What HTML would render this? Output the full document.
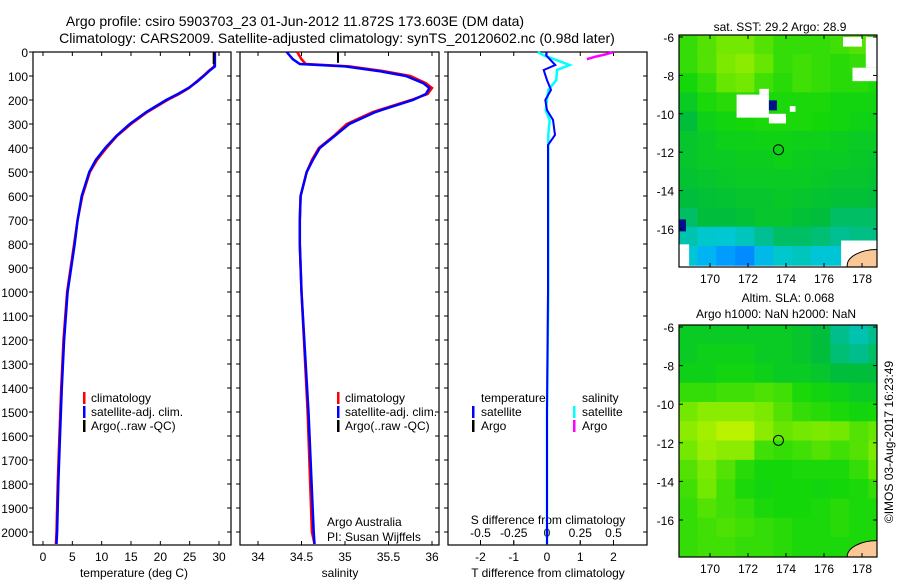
<!DOCTYPE html>
<html><head><meta charset="utf-8">
<style>
html,body{margin:0;padding:0;background:#fff;}
svg text{font-family:"Liberation Sans",sans-serif;fill:#000;}
</style></head>
<body>
<svg id="fig" width="900" height="580" viewBox="0 0 900 580" xmlns="http://www.w3.org/2000/svg">
<text x="295" y="26" font-size="14" text-anchor="middle">Argo profile: csiro 5903703_23 01-Jun-2012 11.872S 173.603E (DM data)</text>
<text x="337" y="43" font-size="14" text-anchor="middle">Climatology: CARS2009. Satellite-adjusted climatology: synTS_20120602.nc (0.98d later)</text>
<g id="g"></g>
</svg>
<script>
// ---------- data ----------
var depthT = [0,60,80,100,125,150,175,200,250,300,350,400,450,500,600,700,800,1000,1200,1400,1600,1800,2000,2050];
var tempSat = [29.3,29.3,28.3,27.4,26.2,24.8,23.0,21.0,17.6,14.8,12.5,10.6,9.0,7.9,6.6,5.9,5.4,4.2,3.6,3.2,2.9,2.6,2.4,2.3];
var tempClim = [29.2,29.2,28.2,27.3,26.1,24.9,23.2,21.2,17.8,15.0,12.6,10.8,9.2,8.0,6.7,5.9,5.3,4.1,3.5,3.1,2.8,2.5,2.3,2.2];
var depthS = [0,30,50,60,80,100,130,150,175,200,250,300,350,400,450,500,600,700,800,1000,1500,2000,2050];
var salSat = [34.33,34.4,34.48,35.0,35.4,35.7,35.9,35.97,35.93,35.78,35.35,35.05,34.88,34.71,34.63,34.56,34.49,34.48,34.48,34.5,34.58,34.64,34.65];
var salClim = [34.45,34.5,34.55,35.05,35.45,35.75,35.93,36.0,35.95,35.76,35.32,35.02,34.87,34.7,34.62,34.56,34.49,34.48,34.48,34.5,34.57,34.62,34.65];
var argoTdepth = [0,50]; var argoT = [29.1,29.1];
var argoSdepth = [0,45]; var argoS = [34.92,34.92];
var diffDepth = [0,15,54,75,117,158,200,242,283,346,388,500,1000,1500,2050];
var tDiff = [-0.02,-0.02,0.25,-0.1,0,0.12,-0.05,0,0.18,0.24,0.03,0.03,0.03,0.0,0.0];
var sDiff = [-0.07,-0.02,0.17,0.075,0.07,0.01,0,-0.01,0.02,0.01,0.01,0.01,0.01,0.0,0.0];
var sArgoDepth = [0,10,20,30]; var sArgoDiff = [0.5,0.44,0.36,0.3];
var yTicks = [0,100,200,300,400,500,600,700,800,900,1000,1100,1200,1300,1400,1500,1600,1700,1800,1900,2000];
var tTicks = [0,5,10,15,20,25,30];
var sTicks = [34,34.5,35,35.5,36];
var sTickLabels = ["34","34.5","35","35.5","36"];
var dTTicks = [-2,-1,0,1,2];
var dSTicks = [-0.5,-0.25,0,0.25,0.5];
var lonTicks = [170,172,174,176,178];
var latTicks = [-6,-8,-10,-12,-14,-16];
var sstGrid = [
[.70,.75,.80,.80,.75,.70,.70,.70,.72,.75,.70],
[.70,.75,.82,.85,.78,.70,.72,.70,.68,.70,.68],
[.65,.70,.78,.80,.72,.68,.72,.70,.68,.68,.66],
[.60,.66,.68,.68,.66,.66,.66,.66,.64,.64,.64],
[.55,.62,.64,.65,.66,.66,.66,.65,.64,.63,.62],
[.58,.60,.62,.62,.63,.63,.62,.62,.61,.60,.60],
[.58,.60,.60,.61,.61,.62,.61,.60,.60,.59,.58],
[.57,.58,.59,.60,.60,.60,.60,.59,.58,.58,.57],
[.55,.56,.57,.58,.58,.59,.58,.57,.56,.56,.55],
[.50,.55,.55,.56,.58,.58,.56,.55,.50,.50,.50],
[.40,.36,.35,.38,.44,.50,.50,.48,.44,.46,.46],
[.34,.28,.22,.18,.30,.36,.38,.34,.34,.35,.36]];
var slaGrid = [
[.60,.60,.60,.60,.60,.60,.58,.55,.45,.40,.45],
[.60,.62,.62,.62,.60,.60,.58,.55,.48,.45,.50],
[.62,.62,.64,.64,.62,.60,.60,.58,.55,.55,.55],
[.70,.70,.72,.72,.74,.72,.66,.64,.62,.60,.60],
[.80,.85,.85,.85,.82,.75,.70,.68,.66,.64,.65],
[.85,.90,.95,.95,.85,.78,.80,.82,.80,.75,.78],
[.80,.88,.85,.85,.72,.70,.72,.75,.72,.75,.82],
[.75,.82,.75,.68,.65,.65,.66,.66,.66,.70,.78],
[.72,.80,.72,.66,.64,.65,.65,.64,.65,.66,.70],
[.70,.75,.72,.70,.66,.65,.65,.66,.68,.66,.66],
[.70,.72,.74,.72,.70,.68,.66,.66,.68,.66,.66],
[.70,.72,.72,.70,.70,.68,.66,.66,.66,.66,.66]];
var argoLon = 173.603, argoLat = -11.872;

// ---------- helpers ----------
var NS="http://www.w3.org/2000/svg", G=document.getElementById('g');
function mk(tag,at,parent){var e=document.createElementNS(NS,tag);for(var k in at)e.setAttribute(k,at[k]);(parent||G).appendChild(e);return e;}
var top0=52, pxPerM=(532-52)/2000, bot=545;
function yD(d){return top0+d*pxPerM;}
function xT(t){return 43+t*(219-43)/30;}
function xS(s){return 258+(s-34)*(432-258)/2;}
function xDT(v){return 547+v*(614-481)/4;}
function xDS(v){return 547+v*(614-481);}
function pathOf(xs,ds,fx){var p='';for(var i=0;i<xs.length;i++){p+=(i?'L':'M')+fx(xs[i]).toFixed(1)+','+yD(ds[i]).toFixed(1);}return p;}
function txt(x,y,s,size,anchor,name){var t=mk('text',{x:x,y:y,'font-size':size||12,'text-anchor':anchor||'start'});t.textContent=s;


return t;}

function panel(x0,x1,name){
 var r=mk('rect',{x:x0,y:top0,width:x1-x0,height:bot-top0,fill:'none',stroke:'#000','stroke-width':1.2});
 
 
 yTicks.forEach(function(d){mk('line',{x1:x0-4,x2:x0,y1:yD(d),y2:yD(d),stroke:'#000'});mk('line',{x1:x1-4,x2:x1,y1:yD(d),y2:yD(d),stroke:'#000'});});
}
yTicks.forEach(function(d){txt(28,yD(d)+5,String(d),12,'end','y-tick-label');});

// Panel 1 temperature
panel(33,231,'temperature-panel');
tTicks.forEach(function(t){mk('line',{x1:xT(t),x2:xT(t),y1:bot,y2:bot-4,stroke:'#000'});mk('line',{x1:xT(t),x2:xT(t),y1:top0,y2:top0+4,stroke:'#000'});txt(xT(t),561,String(t),12,'middle','x-tick-temperature');});
txt(134,577,'temperature (deg C)',12,'middle','x-axis-title-temperature');
var p=mk('path',{d:pathOf(tempClim,depthT,xT),fill:'none',stroke:'#f00','stroke-width':2.5});


p=mk('path',{d:pathOf(tempSat,depthT,xT),fill:'none',stroke:'#00f','stroke-width':2.5});


p=mk('path',{d:pathOf(argoT,argoTdepth,xT),fill:'none',stroke:'#000','stroke-width':2});



// Panel 2 salinity
panel(240,439,'salinity-panel');
sTicks.forEach(function(s,i){mk('line',{x1:xS(s),x2:xS(s),y1:bot,y2:bot-4,stroke:'#000'});mk('line',{x1:xS(s),x2:xS(s),y1:top0,y2:top0+4,stroke:'#000'});txt(xS(s),561,sTickLabels[i],12,'middle','x-tick-salinity');});
txt(340,577,'salinity',12,'middle','x-axis-title-salinity');
p=mk('path',{d:pathOf(salClim,depthS,xS),fill:'none',stroke:'#f00','stroke-width':2.5});


p=mk('path',{d:pathOf(salSat,depthS,xS),fill:'none',stroke:'#00f','stroke-width':2.5});


p=mk('path',{d:pathOf(argoS,argoSdepth,xS),fill:'none',stroke:'#000','stroke-width':2});


txt(327,526,'Argo Australia',12,'start','credit-argo-australia');
txt(327,541,'PI: Susan Wijffels',12,'start','credit-pi');

function legend(x,y,pre){
 var items=[['#f00','climatology'],['#00f','satellite-adj. clim.'],['#000','Argo(..raw -QC)']];
 items.forEach(function(it,i){mk('rect',{x:x,y:y+i*14-10,width:2.5,height:12,fill:it[0]});txt(x+8,y+i*14,it[1],12,'start',pre+'-legend-entry');});
}
legend(83,402,'temperature');
legend(337,402,'salinity');

// Panel 3 differences
panel(448,647,'difference-panel');
dTTicks.forEach(function(v){mk('line',{x1:xDT(v),x2:xDT(v),y1:bot,y2:bot-4,stroke:'#000'});mk('line',{x1:xDT(v),x2:xDT(v),y1:top0,y2:top0+4,stroke:'#000'});txt(xDT(v),561,String(v),12,'middle','x-tick-tdiff');});
dSTicks.forEach(function(v){mk('line',{x1:xDS(v),x2:xDS(v),y1:540,y2:544,stroke:'#000'});txt(xDS(v),537,String(v),12,'middle','x-tick-sdiff');});
txt(548,524,'S difference from climatology',12,'middle','s-diff-axis-title');
txt(548,577,'T difference from climatology',12,'middle','t-diff-axis-title');
p=mk('path',{d:pathOf(sDiff,diffDepth,xDS),fill:'none',stroke:'#0ff','stroke-width':2.5});


p=mk('path',{d:pathOf(tDiff,diffDepth,xDT),fill:'none',stroke:'#00f','stroke-width':2});


p=mk('path',{d:pathOf(sArgoDiff,sArgoDepth,xDS),fill:'none',stroke:'#f0f','stroke-width':2.5});


txt(481,402,'temperature',12,'start','diff-legend-temperature-header');
mk('rect',{x:472,y:406,width:2.5,height:12,fill:'#00f'});txt(481,416,'satellite',12,'start','diff-legend-temperature-satellite');
mk('rect',{x:472,y:420,width:2.5,height:12,fill:'#000'});txt(481,430,'Argo',12,'start','diff-legend-temperature-argo');
txt(582,402,'salinity',12,'start','diff-legend-salinity-header');
mk('rect',{x:573,y:406,width:2.5,height:12,fill:'#0ff'});txt(582,416,'satellite',12,'start','diff-legend-salinity-satellite');
mk('rect',{x:573,y:420,width:2.5,height:12,fill:'#f0f'});txt(582,430,'Argo',12,'start','diff-legend-salinity-argo');

// ---------- maps ----------
var stops=[[0,[0,60,255]],[0.25,[0,170,255]],[0.35,[0,200,210]],[0.45,[0,190,140]],[0.55,[0,190,60]],[0.65,[20,215,10]],[0.8,[115,232,0]],[1,[210,245,0]]];
function cmap(v){for(var i=1;i<stops.length;i++){if(v<=stops[i][0]){var a=stops[i-1],b=stops[i],f=(v-a[0])/(b[0]-a[0]);return 'rgb('+[0,1,2].map(function(k){return Math.round(a[1][k]+f*(b[1][k]-a[1][k]));}).join(',')+')';}}return 'rgb(210,245,0)';}
function map(x0,x1,yTop,yBot,y6,y16,grid,name,extras){
 var lx=function(l){return 710+(l-170)*(862-710)/8;};
 var ly=function(l){return y6+(-6-l)*(y16-y6)/10;};
 var gr=mk('g',{});
 
 
 var cp=mk('clipPath',{id:'c'+name},gr);mk('rect',{x:x0,y:yTop,width:x1-x0,height:yBot-yTop},cp);
 var inner=mk('g',{'clip-path':'url(#c'+name+')'},gr);
 grid.forEach(function(row,r){row.forEach(function(v,c){
  var la=-5.9-r, lo=168.35+c;
  var cell=mk('rect',{x:lx(lo)-0.3,y:ly(la)-0.3,width:lx(lo+1)-lx(lo)+0.6,height:ly(la-1)-ly(la)+0.6,fill:cmap(v)},inner);
  
  
 });});
 if(extras)extras(inner,lx,ly);
 var land=mk('ellipse',{cx:lx(178.8),cy:ly(-17.9),rx:30,ry:16,fill:'#fac896',stroke:'#000','stroke-width':1},inner);
 
 
 mk('rect',{x:x0,y:yTop,width:x1-x0,height:yBot-yTop,fill:'none',stroke:'#000','stroke-width':1.2},gr);
 lonTicks.forEach(function(l){mk('line',{x1:lx(l),x2:lx(l),y1:yBot,y2:yBot-4,stroke:'#000'},gr);mk('line',{x1:lx(l),x2:lx(l),y1:yTop,y2:yTop+4,stroke:'#000'},gr);txt(lx(l),yBot+16,String(l),12,'middle','map-lon-tick');});
 latTicks.forEach(function(l){mk('line',{x1:x0,x2:x0+4,y1:ly(l),y2:ly(l),stroke:'#000'},gr);mk('line',{x1:x1,x2:x1-4,y1:ly(l),y2:ly(l),stroke:'#000'},gr);txt(x0-5,ly(l)+5,String(l),12,'end','map-lat-tick');});
 var c=mk('circle',{cx:lx(argoLon),cy:ly(argoLat),r:5,fill:'none',stroke:'#000','stroke-width':1},gr);
 
 
}
map(679,877,35,267,37,229,sstGrid,'sst-map',function(g,lx,ly){
 [[171.4,-9.0,173.1,-10.2],[172.6,-8.7,173.1,-9.0],[173.1,-10.0,174.0,-10.5],[177.5,-7.6,179,-8.3],[178.2,-6.0,179,-7.6],[177.0,-6.0,178.0,-6.5],[176.9,-16.6,179,-18],[168.35,-16.8,168.9,-18],[174.2,-9.6,174.5,-9.9]].forEach(function(b){
  var w=mk('rect',{x:lx(b[0]),y:ly(b[1]),width:lx(b[2])-lx(b[0]),height:ly(b[3])-ly(b[1]),fill:'#fff'},g);
  
  
 });
 mk('rect',{x:lx(173.1),y:ly(-9.3),width:8,height:10,fill:'#00128c'},g);
 mk('rect',{x:679,y:ly(-15.5),width:7,height:12,fill:'#00128c'},g);
});
txt(780,31,'sat. SST: 29.2 Argo: 28.9',12,'middle','sst-map-title');
txt(788,302,'Altim. SLA: 0.068',12,'middle','sla-map-title');
txt(776,318,'Argo h1000: NaN h2000: NaN',12,'middle','sla-map-subtitle');
map(679,877,325,557,327,520,slaGrid,'sla-map',null);
var ts=txt(0,0,'©IMOS 03-Aug-2017 16:23:49',12,'middle','timestamp');
ts.setAttribute('transform','translate(893,442) rotate(-90)');
</script>
</body></html>
